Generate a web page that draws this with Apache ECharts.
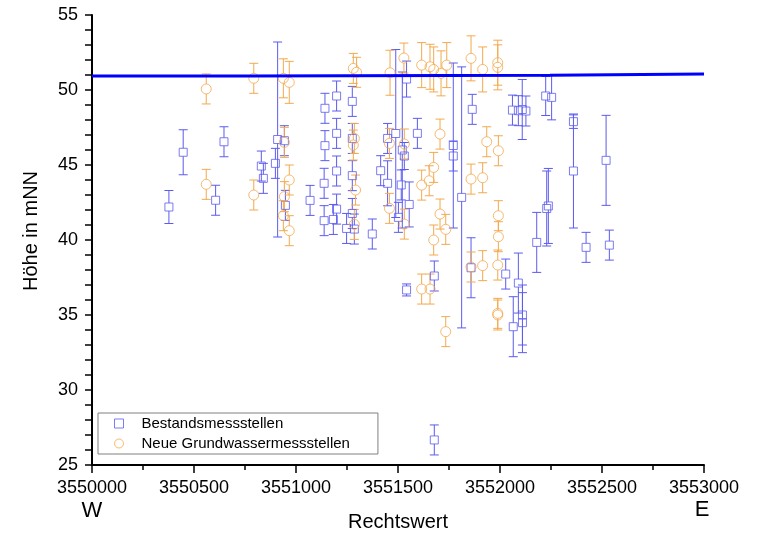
<!DOCTYPE html>
<html>
<head>
<meta charset="utf-8">
<script src="https://cdn.jsdelivr.net/npm/echarts@6/dist/echarts.min.js"></script>
<style>
  html, body { margin: 0; padding: 0; background: #fff; }
  #chart { width: 759px; height: 536px; }
</style>
</head>
<body>
<div id="chart"></div>
<script>
// Bestandsmessstellen (blue squares): Rechtswert, Höhe, +/- Fehler
const bestX = [3550377, 3550447, 3550606, 3550647, 3550830, 3550840, 3550899, 3550910, 3550943, 3550948,
  3551069, 3551142, 3551142, 3551138, 3551138, 3551199, 3551199, 3551199, 3551199, 3551183,
  3551248, 3551276, 3551276, 3551276, 3551276, 3551286, 3551374, 3551415, 3551449, 3551449,
  3551489, 3551521, 3551542, 3551531, 3551516, 3551555, 3551502, 3551595, 3551771, 3551771,
  3551812, 3551864, 3552061, 3552090, 3552109, 3552127, 3552224, 3552253, 3552360, 3552360,
  3552520, 3552229, 3552237, 3552180, 3552422, 3552536, 3551542, 3551678, 3551858, 3552028,
  3552065, 3552090, 3552110, 3552110, 3551678]
const bestY = [42.2, 45.85, 42.65, 46.55, 44.93, 44.11, 45.11, 46.7, 46.62, 42.31,
  42.64, 48.78, 46.29, 43.78, 41.29, 49.6, 47.11, 44.6, 42.06, 41.37,
  40.77, 49.24, 46.77, 44.29, 41.77, 40.73, 40.4, 44.62, 46.77, 43.78,
  47.1, 46.0, 50.73, 45.6, 43.67, 42.37, 41.51, 47.11, 46.3, 45.6,
  42.84, 48.71, 48.66, 48.62, 48.7, 48.6, 49.6, 49.51, 47.89, 44.6,
  45.31, 42.1, 42.27, 39.84, 39.51, 39.66, 36.67, 37.6, 38.15, 37.73,
  34.22, 37.13, 35.0, 34.49, 26.67]
const bestErr = [1.1, 1.5, 1, 1, 1, 1, 1, 6.5, 1, 1,
  1, 1, 1, 1, 1, 1, 1, 1, 1, 1,
  1, 1, 1, 1, 1, 1, 1, 1, 1, 1.5,
  5.6, 5.2, 1.2, 0.9, 1, 1.5, 1, 1, 5.5, 1,
  8.7, 1, 1, 1, 2, 1, 1.3, 1.5, 0.45, 3.8,
  3, 2.5, 2.5, 2, 1, 1, 0.4, 1, 2, 1,
  2, 2, 2, 2, 1]

// Neue Grundwassermessstellen (orange circles)
const neueX = [3550560, 3550793, 3550938, 3550967, 3550943, 3550560, 3550793, 3550967, 3550943, 3550938,
  3550967, 3551281, 3551297, 3551461, 3551529, 3551616, 3551657, 3551675, 3551711, 3551739,
  3551858, 3551915, 3551989, 3551989, 3551286, 3551281, 3551458, 3551531, 3551706, 3551935,
  3551992, 3551675, 3551653, 3551616, 3551858, 3551915, 3551292, 3551458, 3551706, 3551734,
  3551675, 3551531, 3551992, 3551992, 3551286, 3551616, 3551657, 3551734, 3551858, 3551915,
  3551989, 3551989, 3551989]
const neueY = [50.07, 50.78, 50.78, 50.51, 46.51, 43.71, 43.0, 44.0, 42.89, 41.62,
  40.62, 51.44, 51.18, 51.15, 52.13, 51.66, 51.55, 51.37, 51.11, 51.66,
  52.11, 51.37, 51.82, 51.51, 46.77, 46.33, 46.44, 46.4, 47.06, 46.55,
  45.95, 44.84, 43.95, 43.66, 44.06, 44.15, 43.33, 42.11, 41.73, 40.71,
  40.0, 41.06, 41.62, 40.22, 41.04, 36.73, 36.73, 33.89, 38.2, 38.29,
  38.33, 35.11, 35.0]
const neueErr = [1, 1, 1.3, 1.4, 1, 1, 1, 1, 1, 1,
  1, 1, 1, 1.5, 1, 1.5, 1.5, 1.5, 1.5, 1.5,
  1.5, 1.5, 1.5, 1.5, 1, 1, 1, 1, 1, 1,
  1, 1, 1, 1, 1, 1, 1, 1, 1, 1,
  1, 1, 1, 1, 1, 1, 1, 1, 1, 1,
  1, 1, 1]

// horizontal reference line (stepped)
const refX = [3550000, 3550750, 3552245, 3553000]
const refY = [50.93, 50.99, 51.06, 51.06]

const xTicks = { min: 3550000, max: 3553000, interval: 500 }
const yTicks = { min: 25, max: 55, interval: 5 }

const BLUE = '#5b5bf0'
const ORANGE = '#f2a94e'
const FONT = 'Liberation Sans, Arial, sans-serif'

function zip3(a, b, c) {
  return a.map((v, i) => [v, b[i], c[i]])
}

function errorBars(color, gap) {
  return function (params, api) {
    const x = api.value(0)
    const y = api.value(1)
    const e = api.value(2)
    const top = api.coord([x, y + e])
    const bot = api.coord([x, y - e])
    const mid = api.coord([x, y])
    const style = { stroke: color, lineWidth: 1 }
    const children = []
    if (mid[1] - gap > top[1]) {
      children.push({ type: 'line', shape: { x1: top[0], y1: top[1], x2: mid[0], y2: mid[1] - gap }, style })
    }
    if (mid[1] + gap < bot[1]) {
      children.push({ type: 'line', shape: { x1: mid[0], y1: mid[1] + gap, x2: bot[0], y2: bot[1] }, style })
    }
    children.push({ type: 'line', shape: { x1: top[0] - 4.5, y1: top[1], x2: top[0] + 4.5, y2: top[1] }, style })
    children.push({ type: 'line', shape: { x1: bot[0] - 4.5, y1: bot[1], x2: bot[0] + 4.5, y2: bot[1] }, style })
    return { type: 'group', children }
  }
}

const chart = echarts.init(document.getElementById('chart'))

const option = {
  animation: false,
  backgroundColor: '#fff',
  grid: { left: 92, right: 55, top: 15, bottom: 71, containLabel: false, outerBoundsMode: 'none' },
  xAxis: {
    type: 'value',
    min: xTicks.min,
    max: xTicks.max,
    interval: xTicks.interval,
    axisLine: { show: true, onZero: false, lineStyle: { color: '#000', width: 2 } },
    axisTick: { show: true, length: 8, lineStyle: { color: '#000', width: 1.5 } },
    minorTick: { show: true, splitNumber: 2, length: 5, lineStyle: { color: '#000', width: 1.5 } },
    splitLine: { show: false },
    minorSplitLine: { show: false },
    axisLabel: { color: '#000', fontSize: 18, fontFamily: FONT, margin: 14, formatter: v => String(v) }
  },
  yAxis: {
    type: 'value',
    min: yTicks.min,
    max: yTicks.max,
    interval: yTicks.interval,
    axisLine: { show: true, onZero: false, lineStyle: { color: '#000', width: 2 } },
    axisTick: { show: true, length: 7, lineStyle: { color: '#000', width: 1.5 } },
    minorTick: { show: true, splitNumber: 5, length: 7, lineStyle: { color: '#000', width: 1.5 } },
    splitLine: { show: false },
    minorSplitLine: { show: false },
    axisLabel: { color: '#000', fontSize: 18, fontFamily: FONT, margin: 14 }
  },
  legend: {
    orient: 'vertical',
    left: 98,
    top: 413,
    padding: [3, 28, 3, 16],
    itemGap: 5,
    itemWidth: 9,
    itemHeight: 9,
    borderColor: '#808080',
    borderWidth: 1,
    backgroundColor: '#fff',
    textStyle: { color: '#000', fontSize: 15, fontFamily: FONT, padding: [0, 0, 0, 13] },
    data: [
      { name: 'Bestandsmessstellen', icon: 'rect', itemStyle: { color: '#fff', borderColor: BLUE, borderWidth: 1 } },
      { name: 'Neue Grundwassermessstellen', icon: 'circle', itemStyle: { color: '#fff', borderColor: ORANGE, borderWidth: 1 } }
    ]
  },
  graphic: [
    { type: 'text', x: 92, y: 511, style: { text: 'W', fontSize: 22, fontFamily: FONT, fill: '#000', align: 'center', verticalAlign: 'middle', textAlign: 'center', textVerticalAlign: 'middle' } },
    { type: 'text', x: 702, y: 510, style: { text: 'E', fontSize: 22, fontFamily: FONT, fill: '#000', align: 'center', verticalAlign: 'middle', textAlign: 'center', textVerticalAlign: 'middle' } },
    { type: 'text', x: 398, y: 522, style: { text: 'Rechtswert', fontSize: 20, fontFamily: FONT, fill: '#000', align: 'center', verticalAlign: 'middle', textAlign: 'center', textVerticalAlign: 'middle' } },
    { type: 'text', x: 31, y: 231, rotation: Math.PI / 2, style: { text: 'Höhe in mNN', fontSize: 20, fontFamily: FONT, fill: '#000', align: 'center', verticalAlign: 'middle', textAlign: 'center', textVerticalAlign: 'middle' } }
  ],
  series: [
    {
      name: 'Fehler Bestand',
      type: 'custom',
      silent: true,
      encode: { x: 0, y: 1 },
      renderItem: errorBars(BLUE, 4),
      data: zip3(bestX, bestY, bestErr),
      z: 2
    },
    {
      name: 'Fehler Neu',
      type: 'custom',
      silent: true,
      encode: { x: 0, y: 1 },
      renderItem: errorBars(ORANGE, 5),
      data: zip3(neueX, neueY, neueErr),
      z: 2
    },
    {
      name: 'Bestandsmessstellen',
      type: 'scatter',
      symbol: 'rect',
      symbolSize: 8,
      itemStyle: { color: 'rgba(255,255,255,0)', borderColor: BLUE, borderWidth: 1 },
      data: bestX.map((x, i) => [x, bestY[i]]),
      z: 3
    },
    {
      name: 'Neue Grundwassermessstellen',
      type: 'scatter',
      symbol: 'circle',
      symbolSize: 10,
      itemStyle: { color: 'rgba(255,255,255,0)', borderColor: ORANGE, borderWidth: 1 },
      data: neueX.map((x, i) => [x, neueY[i]]),
      z: 3
    },
    {
      name: 'Linie',
      type: 'line',
      step: 'end',
      symbol: 'none',
      silent: true,
      lineStyle: { color: '#0000ff', width: 3 },
      data: refX.map((x, i) => [x, refY[i]]),
      z: 4
    }
  ]
}

chart.setOption(option)
</script>
</body>
</html>
